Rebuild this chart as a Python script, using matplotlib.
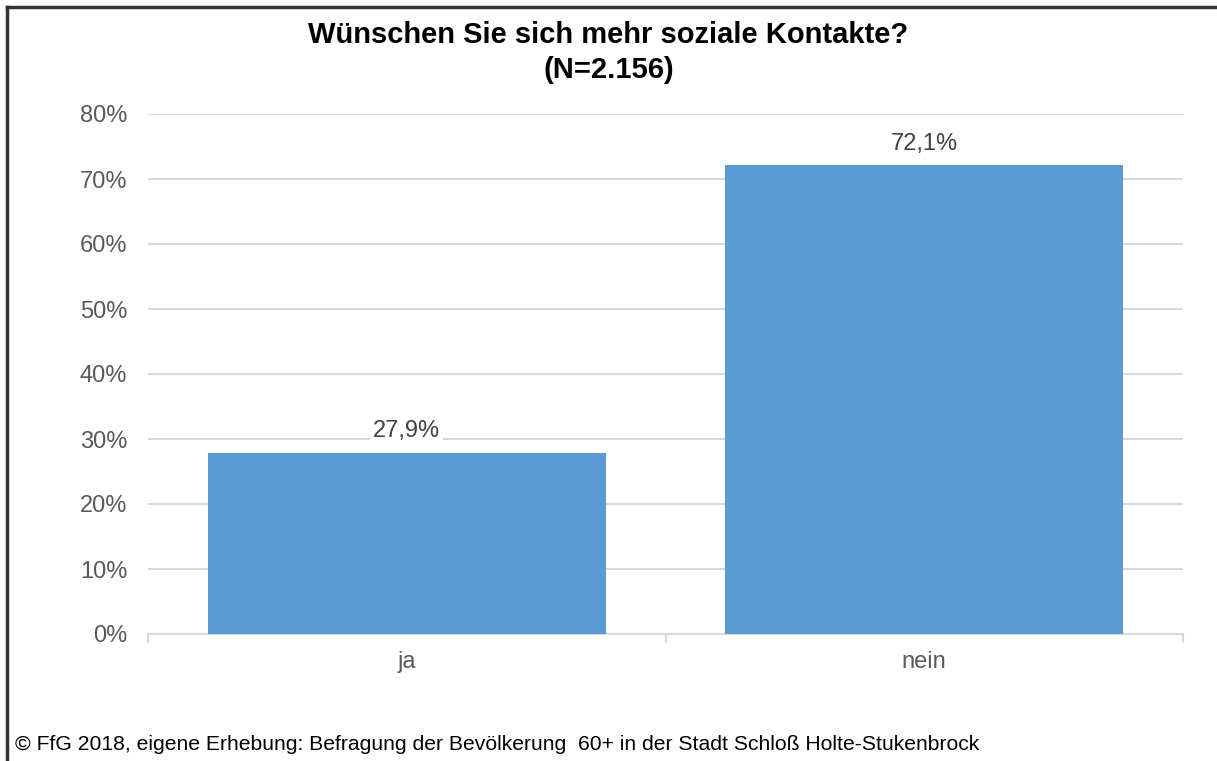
import numpy as np
import matplotlib
matplotlib.use('Agg')
import matplotlib.pyplot as plt
from matplotlib.lines import Line2D

# data
kategorien = ['ja', 'nein']
anteile = [27.9, 72.1]
yticks = [0, 10, 20, 30, 40, 50, 60, 70, 80]

plt.rcParams['font.family'] = ['Liberation Sans', 'DejaVu Sans']

fig = plt.figure(figsize=(12.17, 7.61), dpi=100)
ax = fig.add_axes([148/1217, 1 - 634/761, (1183 - 148)/1217, (634 - 114)/761])

x = np.arange(len(kategorien))
ax.bar(x, anteile, width=0.77, color='#5B9BD5', zorder=3)
for xi, v in zip(x, anteile):
    ax.text(xi, v + 1.6, f'{v:.1f}%'.replace('.', ','), ha='center', va='bottom',
            fontsize=17, color='#404040', zorder=4,
            bbox=dict(facecolor='white', edgecolor='none', pad=2))

ax.set_xlim(-0.5, 1.5)
ax.set_ylim(0, 80)
ax.set_yticks(yticks)
ax.set_yticklabels([f'{t}%' for t in yticks], fontsize=17, color='#595959')
ax.yaxis.grid(True, color='#D9D9D9', linewidth=1.5, zorder=0)
ax.tick_params(axis='y', length=0, pad=15)
ax.set_xticks(x)
ax.set_xticklabels(kategorien, fontsize=17, color='#595959')
ax.tick_params(axis='x', length=0, pad=12)
for s in ['top', 'right', 'left']:
    ax.spines[s].set_visible(False)
ax.spines['bottom'].set_color('#D9D9D9')
ax.spines['bottom'].set_linewidth(1.5)
# kleine Striche an der x-Achse (Kategoriegrenzen)
for xb in [-0.5, 0.5, 1.5]:
    ax.plot([xb, xb], [0, -1.3], color='#D9D9D9', lw=1.5, clip_on=False)

fig.text(0.5, 1 - 35/761, 'Wünschen Sie sich mehr soziale Kontakte?', ha='center', va='center',
         fontsize=21, fontweight='bold', color='black')
fig.text(0.5, 1 - 70/761, '(N=2.156)', ha='center', va='center',
         fontsize=21, fontweight='bold', color='black')
fig.text(15/1217, 1 - 745/761, '© FfG 2018, eigene Erhebung: Befragung der Bevölkerung  60+ in der Stadt Schloß Holte-Stukenbrock',
         ha='left', va='center', fontsize=15.2, color='black')

# Rahmen oben und links
fig.add_artist(Line2D([7/1217, 1], [1 - 7/761, 1 - 7/761], color='#333333', lw=2.5))
fig.add_artist(Line2D([7/1217, 7/1217], [0, 1 - 7/761], color='#333333', lw=2.5))

fig.savefig('out.png', dpi=100)
